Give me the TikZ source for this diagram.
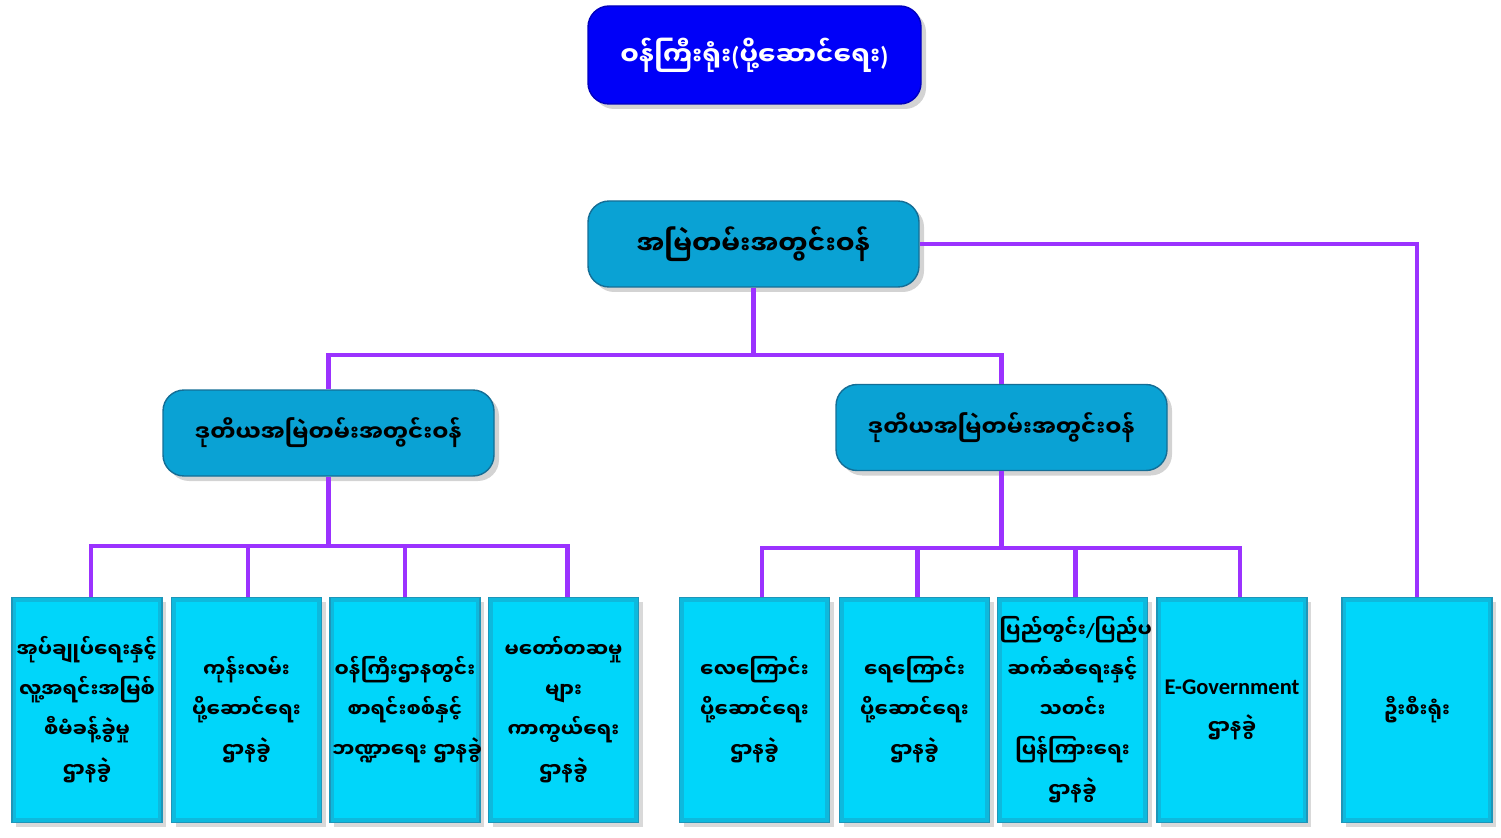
\documentclass[tikz,border=0pt]{standalone}
\usepackage{fontspec}
\newfontfamily\mmfont[Script=Myanmar]{Noto Sans Myanmar UI}
\newfontfamily\latfont{Carlito}
\usetikzlibrary{positioning,shadows}
\definecolor{mintop}{RGB}{0,0,248}
\definecolor{mintopedge}{RGB}{0,0,190}
\definecolor{secfill}{RGB}{10,162,212}
\definecolor{secedge}{RGB}{20,110,150}
\definecolor{unitfill}{RGB}{0,214,250}
\definecolor{unitedge}{RGB}{30,150,185}
\definecolor{linkpurple}{RGB}{155,50,255}
\newcommand{\lat}[1]{{\latfont\bfseries #1}}

\begin{document}
\begin{tikzpicture}[x=0.1mm,y=-0.1mm,
    ministry/.style={draw=mintopedge,fill=mintop,rounded corners=6pt,text=white,minimum width=3.33cm,minimum height=0.98cm,
      font=\mmfont\bfseries\fontsize{7.4}{9}\selectfont,drop shadow={opacity=0.35,shadow xshift=0.5mm,shadow yshift=-0.5mm}},
    secbox/.style={draw=secedge,fill=secfill,rounded corners=6pt,minimum width=3.31cm,minimum height=0.86cm,
      font=\mmfont\bfseries\fontsize{7.5}{9}\selectfont,drop shadow={opacity=0.35,shadow xshift=0.5mm,shadow yshift=-0.5mm}},
    unitbox/.style={draw=unitedge,fill=unitfill,minimum width=1.5cm,minimum height=2.25cm,text width=1.46cm,align=center,inner sep=0.2mm,
      font=\mmfont\bfseries\fontsize{5.7}{11.4}\selectfont,drop shadow={opacity=0.3,shadow xshift=0.4mm,shadow yshift=-0.4mm},
      path picture={\draw[unitedge!45!unitfill,line width=2.4pt] (path picture bounding box.south west) rectangle (path picture bounding box.north east);}},
    link/.style={draw=linkpurple,line width=1.4pt}]
  \useasboundingbox (0,0) rectangle (1501,837);

  % head office
  \node[ministry] (office) at (754.5,55) {ဝန်ကြီးရုံး\lat{(}ပို့ဆောင်ရေး\lat{)}};
  \node[secbox] (perm) at (753.5,244) {အမြဲတမ်းအတွင်းဝန်};
  \node[secbox,font=\mmfont\bfseries\fontsize{6.45}{8}\selectfont] (depL) at (328.5,433) {ဒုတိယအမြဲတမ်းအတွင်းဝန်};
  \node[secbox,font=\mmfont\bfseries\fontsize{6.45}{8}\selectfont] (depR) at (1001.5,427.5) {ဒုတိယအမြဲတမ်းအတွင်းဝန်};

  % divisions
  \node[unitbox] (u1) at (87,710) {အုပ်ချုပ်ရေးနှင့်\\လူ့အရင်းအမြစ်\\စီမံခန့်ခွဲမှု\\ဌာနခွဲ};
  \node[unitbox] (u2) at (246.5,710) {ကုန်းလမ်း\\ပို့ဆောင်ရေး\\ဌာနခွဲ};
  \node[unitbox] (u3) at (405,710) {ဝန်ကြီးဌာနတွင်း\\စာရင်းစစ်နှင့်\\\mbox{ဘဏ္ဍာရေး ဌာနခွဲ}};
  \node[unitbox] (u4) at (563.5,710) {မတော်တဆမှု\\များ\\ကာကွယ်ရေး\\ဌာနခွဲ};
  \node[unitbox] (u5) at (754.5,710) {လေကြောင်း\\ပို့ဆောင်ရေး\\ဌာနခွဲ};
  \node[unitbox] (u6) at (914.5,710) {ရေကြောင်း\\ပို့ဆောင်ရေး\\ဌာနခွဲ};
  \node[unitbox] (u7) at (1072.5,710) {ပြည်တွင်း\lat{/}ပြည်ပ\\ဆက်ဆံရေးနှင့်\\သတင်း\\ပြန်ကြားရေး\\ဌာနခွဲ};
  \node[unitbox] (u8) at (1232,710) {\lat{\fontsize{6.4}{11.4}\selectfont E-Government}\\ဌာနခွဲ};
  \node[unitbox] (u9) at (1417,710) {ဦးစီးရုံး};

  % connectors
  \coordinate (forkTop) at (754,355);
  \coordinate (forkL) at (327,546);
  \coordinate (forkR) at (1002,548);
  \draw[link] (perm.south) -- (perm.south |- forkTop);
  \draw[link] (depL.north) |- (forkTop) -| (depR.north);
  \draw[link] (perm.east) -| (u9.north);
  \draw[link] (depL.south) -- (depL.south |- forkL);
  \draw[link] ([xshift=0.4mm]u1.north) |- (forkL) -| ([xshift=0.4mm]u4.north);
  \draw[link] ([xshift=0.15mm]u2.north) -- ([xshift=0.15mm]u2.north |- forkL);
  \draw[link] (u3.north) -- (u3.north |- forkL);
  \draw[link] (depR.south) -- (depR.south |- forkR);
  \draw[link] ([xshift=0.75mm]u5.north) |- (forkR) -| ([xshift=0.8mm]u8.north);
  \foreach \u in {u6,u7} \draw[link] ([xshift=0.3mm]\u.north) -- ([xshift=0.3mm]\u.north |- forkR);
\end{tikzpicture}
\end{document}
